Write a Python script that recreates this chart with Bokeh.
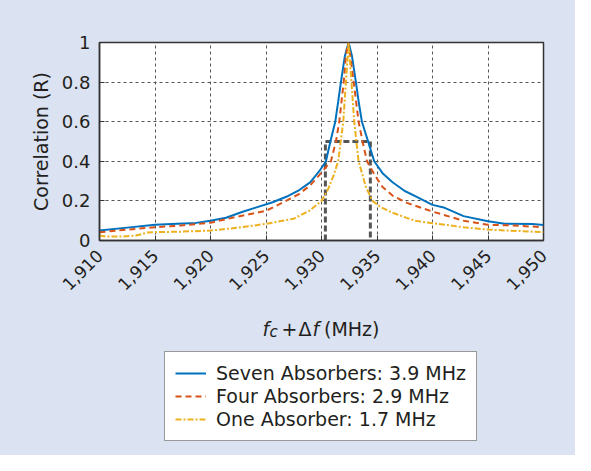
import math
from bokeh.plotting import figure
from bokeh.layouts import column
from bokeh.models import Range1d, Legend, LegendItem, Label, FixedTicker, NumeralTickFormatter
from bokeh.embed import file_html
from bokeh.resources import INLINE

# ---------------- data ----------------
seven_f = [1910, 1912.5, 1915, 1917, 1918.7, 1920, 1921.4, 1922.9, 1924, 1925.6, 1927, 1928,
           1929, 1929.8, 1930.4, 1930.8, 1931.24, 1931.5, 1931.75, 1932.1, 1932.44, 1932.75,
           1933.1, 1933.35, 1933.64, 1934.2, 1934.75, 1935.5, 1936.4, 1937.5, 1938.4, 1940,
           1941.1, 1942.8, 1945, 1946.5, 1949, 1950]
seven_r = [0.05, 0.065, 0.08, 0.085, 0.089, 0.1, 0.115, 0.145, 0.165, 0.193, 0.225, 0.255,
           0.295, 0.35, 0.4, 0.5, 0.6, 0.7, 0.8, 0.93, 1.0, 0.93,
           0.8, 0.7, 0.6, 0.5, 0.4, 0.34, 0.294, 0.25, 0.225, 0.18,
           0.165, 0.123, 0.097, 0.085, 0.083, 0.078]

four_f = [1910, 1912.5, 1915, 1917.4, 1920, 1922.4, 1925, 1926.8, 1928, 1929, 1929.8, 1930.85,
          1931.3, 1931.6, 1932.0, 1932.2, 1932.4, 1932.6, 1932.9, 1933.34, 1933.7, 1934.1,
          1934.8, 1935.5, 1936.4, 1937.7, 1940, 1942.8, 1945, 1947.2, 1950]
four_r = [0.042, 0.055, 0.067, 0.076, 0.09, 0.12, 0.15, 0.2, 0.235, 0.28, 0.33, 0.4,
          0.5, 0.6, 0.8, 0.93, 1.0, 0.93, 0.8, 0.6, 0.5, 0.4,
          0.33, 0.27, 0.227, 0.19, 0.146, 0.10, 0.079, 0.076, 0.067]

one_f = [1910, 1910.6, 1912, 1913.3, 1914.3, 1915, 1917.5, 1920, 1922.5, 1925, 1927.5, 1928.9,
         1930.0, 1930.6, 1931.1, 1931.5, 1931.96, 1932.2, 1932.44, 1932.7, 1932.95, 1933.34,
         1933.7, 1934.0, 1934.6, 1935.3, 1936.4, 1938.4, 1940, 1942.8, 1945, 1950]
one_r = [0.025, 0.02, 0.02, 0.025, 0.04, 0.042, 0.045, 0.05, 0.065, 0.084, 0.11, 0.15,
         0.2, 0.26, 0.33, 0.4, 0.6, 0.8, 1.0, 0.8, 0.6, 0.4,
         0.33, 0.27, 0.2, 0.17, 0.14, 0.1, 0.087, 0.067, 0.055, 0.042]

# half-power bandwidth marker (R = 0.5)
hw_left, hw_right, hw_level = 1930.35, 1934.4, 0.5

x_ticks = [1910, 1915, 1920, 1925, 1930, 1935, 1940, 1945, 1950]
y_ticks = [0, 0.2, 0.4, 0.6, 0.8, 1.0]
y_tick_labels = ["0", "0.2", "0.4", "0.6", "0.8", "1"]

series_labels = ["Seven Absorbers: 3.9 MHz", "Four Absorbers: 2.9 MHz", "One Absorber: 1.7 MHz"]

# ---------------- styling ----------------
BG = "#dbe2f1"
TXT = "#231f20"
FONT = "DejaVu Sans"
BLUE, ORANGE, YELLOW = "#0072bd", "#d95319", "#edb120"
STYLES = [dict(line_color=BLUE, line_width=2),
          dict(line_color=ORANGE, line_width=2, line_dash="6 4"),
          dict(line_color=YELLOW, line_width=2, line_dash="6 2 2 2")]

W, H1, H2 = 575, 305, 150
FL, FR = 99, 543          # frame left / right (px) shared by both panels

p = figure(width=W, height=H1, output_backend="svg", toolbar_location=None,
           x_range=Range1d(1910, 1950), y_range=Range1d(0, 1),
           min_border_left=FL, min_border_right=W - FR, min_border_top=42, min_border_bottom=65,
           background_fill_color="white", border_fill_color=BG)

p.outline_line_color = "#333333"
p.outline_line_width = 1.5

for ax in (p.xaxis[0], p.yaxis[0]):
    ax.axis_line_color = "#333333"
    ax.axis_line_width = 1.5
    ax.major_tick_in = 5
    ax.major_tick_out = 0
    ax.major_tick_line_color = "#333333"
    ax.minor_tick_line_color = None
    ax.major_label_text_font = FONT
    ax.major_label_text_color = TXT
    ax.major_label_text_font_size = "18px"

p.xaxis.ticker = FixedTicker(ticks=x_ticks)
p.xaxis.formatter = NumeralTickFormatter(format="0,0")
p.xaxis.major_label_orientation = math.pi / 4
p.xaxis.major_label_standoff = 12
p.xaxis.major_label_text_font_size = "17px"

p.yaxis.ticker = FixedTicker(ticks=y_ticks)
p.yaxis.major_label_overrides = {t: s for t, s in zip(y_ticks, y_tick_labels)}
p.yaxis.major_label_standoff = 9
p.yaxis.axis_label = "Correlation (R)"
p.yaxis.axis_label_text_font = FONT
p.yaxis.axis_label_text_font_style = "normal"
p.yaxis.axis_label_text_font_size = "19px"
p.yaxis.axis_label_text_color = TXT
p.yaxis.axis_label_standoff = 7

for g in (p.xgrid[0], p.ygrid[0]):
    g.grid_line_color = "#555555"
    g.grid_line_dash = "3 3"
    g.grid_line_width = 1
p.xgrid.ticker = FixedTicker(ticks=x_ticks)
p.ygrid.ticker = FixedTicker(ticks=y_ticks)

p.line([hw_left, hw_left, hw_right, hw_right], [0, hw_level, hw_level, 0],
       line_color="#555555", line_width=3, line_dash="6 3")
series = list(zip([seven_f, four_f, one_f], [seven_r, four_r, one_r], STYLES))
for fx, ry, st in series:
    p.line(fx, ry, **st)

# ---------------- lower panel: axis title + legend ----------------
# its frame is aligned with the upper one, so its x range is expressed in page pixels
q = figure(width=W, height=H2, output_backend="svg", toolbar_location=None,
           x_range=Range1d(FL, FR), y_range=Range1d(H2, 0),
           x_axis_location=None, y_axis_location=None,
           min_border_left=FL, min_border_right=W - FR, min_border_top=0, min_border_bottom=0,
           background_fill_color=BG, background_fill_alpha=1.0, border_fill_color=BG)
q.grid.visible = False
q.outline_line_color = None

# same series drawn here only to give the legend its line samples (they fall outside this panel's ranges)
leg_r = [q.line(fx, ry, **st) for fx, ry, st in series]
legend = Legend(items=[LegendItem(label=lab, renderers=[r]) for lab, r in zip(series_labels, leg_r)],
                location=(65, 14), orientation="vertical",
                padding=10, margin=0, spacing=1, glyph_width=31, glyph_height=22,
                label_height=22, label_standoff=10,
                label_text_font=FONT, label_text_font_size="19px", label_text_color=TXT,
                border_line_color="#333333", border_line_width=1.5,
                background_fill_color="white", background_fill_alpha=1.0)
q.add_layout(legend)

# x-axis title: f_c + Δf (MHz), composed from pieces (pixel positions in this panel)
pieces = [("f", 262, 23, "italic", "19px"), ("c", 269, 26.5, "italic", "15px"),
          ("+", 281, 23, "normal", "19px"), ("\u0394", 298, 23, "normal", "19px"),
          ("f", 312, 23, "italic", "19px"), ("(MHz)", 323.5, 23, "normal", "19px")]
for txt, x, y, style, size in pieces:
    q.add_layout(Label(x=x, y=y, text=txt,
                       text_font=FONT, text_font_size=size, text_font_style=style,
                       text_color=TXT, text_baseline="alphabetic", text_align="left"))

layout = column(p, q, spacing=0, styles={"background-color": BG})
open("out.html", "w").write(file_html(layout, INLINE))
